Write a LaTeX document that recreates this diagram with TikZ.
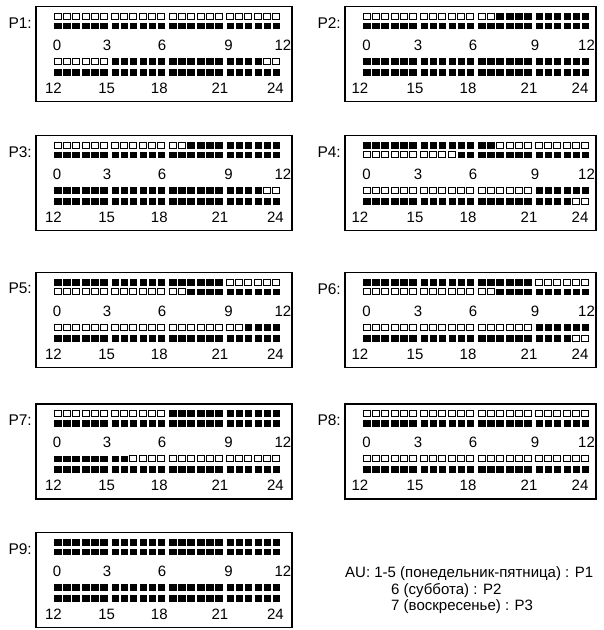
\documentclass[tikz,border=0pt]{standalone}
\usepackage{fontspec}
\setmainfont{Liberation Sans}
\tikzset{
  panelbox/.style={draw=black, line width=1.2pt},
  emptycell/.style={draw=black, line width=0.95pt},
  fullcell/.style={fill=black},
  hourlabel/.style={font=\fontsize{15}{15}\selectfont, inner sep=0pt, anchor=center},
  plabel/.style={font=\fontsize{15.5}{15.5}\selectfont, inner sep=0pt, anchor=east},
  legendtext/.style={font=\fontsize{15}{16}\selectfont, inner sep=0pt, anchor=base west},
}
\def\patA{0,0,0,0,0,0}
\def\patB{1,1,1,1,1,1}
\def\patC{0,0,1,1,1,1}
\def\patD{1,1,1,1,0,0}
\def\patG{1,1,0,0,0,0}
\def\patH{0,0,0,0,1,1}
\newcommand\cellrow[3]{%
  \foreach \g [count=\k from 0] in {#3}{%
    \edef\curpat{\csname pat\g\endcsname}%
    \foreach \v [count=\j from 0] in \curpat {%
      \pgfmathsetmacro\cx{#1+\k*57.5+\j*9+(\j>2)*1}%
      \ifnum\v=1
        \fill[fullcell] (\cx,#2) rectangle ++(7.5,6.9);
      \else
        \draw[emptycell] (\cx+0.45,#2+0.45) rectangle ++(6.6,6.0);
      \fi
    }%
  }%
}
\newcommand\panel[8]{%
  \draw[panelbox] (#2,#3) rectangle ++(#4,95);
  \node[plabel] (#1) at (#2-4,#3+16) {#1:};
  \cellrow{#2+18}{#3+6}{#5}
  \cellrow{#2+18}{#3+15.8}{#6}
  \cellrow{#2+18}{#3+51.5}{#7}
  \cellrow{#2+18}{#3+62}{#8}
  \foreach \t/\dx in \toplabels
    \node[hourlabel] (#1-t\t) at (#2+18+\dx,#3+38.3) {\t};
  \foreach \t/\dx in \botlabels
    \node[hourlabel] (#1-b\t) at (#2+18+\dx,#3+81.6) {\t};
}
\begin{document}
\begin{tikzpicture}[x=1pt,y=-1pt]
\useasboundingbox (0,0) rectangle (604,630);
% left column
\def\toplabels{0/3,3/53,6/108,9/174.5,12/229}
\def\botlabels{12/-0.5,15/52.7,18/105.3,21/166,24/221.5}
\panel{P1}{36}{6.7}{256}{A,A,A,A}{B,B,B,B}{A,B,B,D}{B,B,B,B}
\panel{P3}{36}{135.7}{256}{A,A,C,B}{B,B,B,B}{B,B,B,D}{B,B,B,B}
\panel{P5}{36}{272.7}{256}{B,B,B,A}{A,A,C,B}{A,A,A,C}{B,B,B,B}
\panel{P7}{36}{404}{256}{A,A,B,B}{B,B,B,B}{B,G,A,A}{B,B,B,B}
\panel{P9}{36}{532.7}{256}{B,B,B,B}{B,B,B,B}{B,B,B,B}{B,B,B,B}
% right column
\def\toplabels{0/3.5,3/55,6/110,9/172,12/223.5}
\def\botlabels{12/-3,15/52,18/105,21/166,24/217}
\panel{P2}{345}{6.7}{251}{A,A,C,B}{B,B,B,B}{B,B,B,B}{B,B,B,B}
\panel{P4}{345}{135.7}{251}{B,B,G,A}{A,H,B,B}{A,A,A,B}{B,B,B,D}
\panel{P6}{345}{272.7}{251}{B,B,B,A}{A,A,C,B}{A,A,A,B}{B,B,B,D}
\panel{P8}{345}{404}{251}{A,A,A,A}{B,B,B,B}{A,A,A,A}{B,B,B,B}
% legend
\node[legendtext] (leg1) at (345,577) {AU: 1-5 (понедельник-пятница) : P1};
\node[legendtext] (leg2) at (391,594) {6 (суббота) : P2};
\node[legendtext] (leg3) at (391,610) {7 (воскресенье) : P3};
\end{tikzpicture}
\end{document}
